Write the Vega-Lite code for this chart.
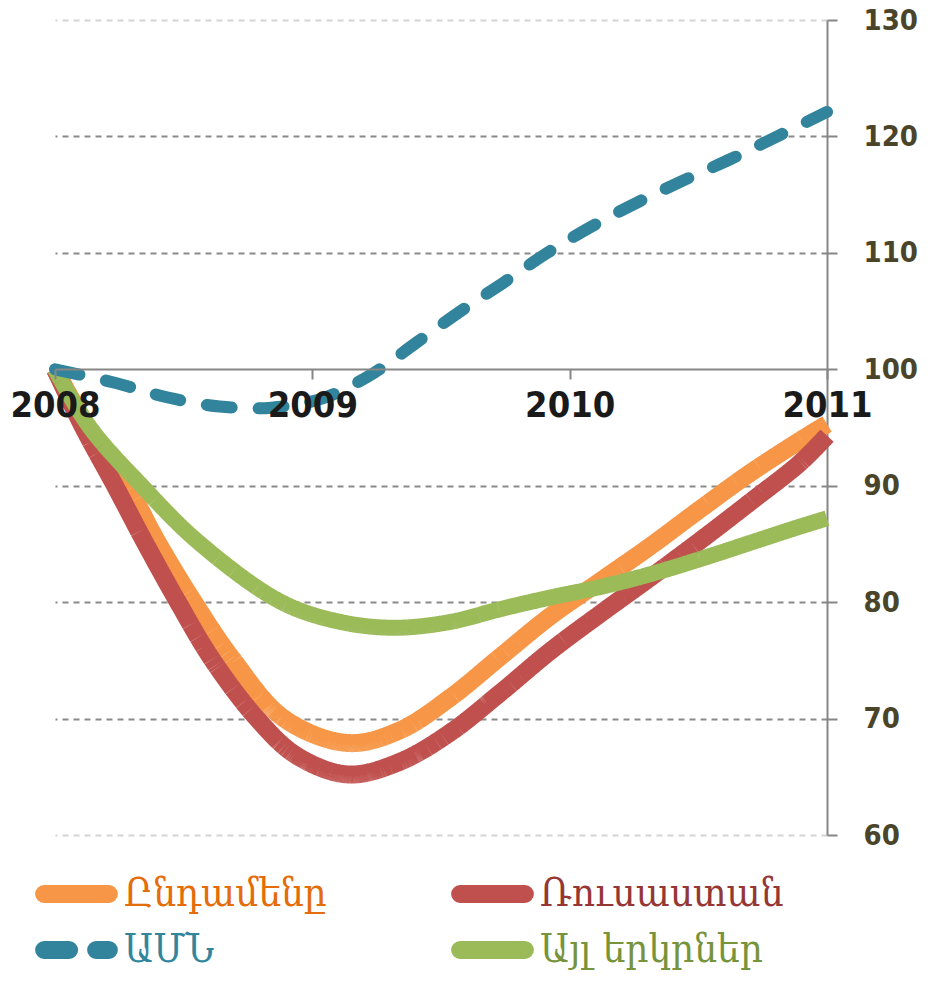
{
  "$schema": "https://vega.github.io/schema/vega-lite/v6.json",
  "width": 772,
  "height": 815,
  "autosize": "none",
  "padding": {"left": 55, "top": 20, "right": 101, "bottom": 149},
  "background": "white",
  "data": {"values": [
    {"series": "Ընդամենը", "year": 2008.0, "value": 100},
    {"series": "Ընդամենը", "year": 2008.128, "value": 95},
    {"series": "Ընդամենը", "year": 2008.28, "value": 90},
    {"series": "Ընդամենը", "year": 2008.40, "value": 85.1},
    {"series": "Ընդամենը", "year": 2008.54, "value": 80},
    {"series": "Ընդամենը", "year": 2008.69, "value": 75.1},
    {"series": "Ընդամենը", "year": 2008.89, "value": 70},
    {"series": "Ընդամենը", "year": 2009.14, "value": 67.9},
    {"series": "Ընդամենը", "year": 2009.341, "value": 69.0},
    {"series": "Ընդամենը", "year": 2009.536, "value": 71.8},
    {"series": "Ընդամենը", "year": 2009.73, "value": 75.3},
    {"series": "Ընդամենը", "year": 2009.925, "value": 78.8},
    {"series": "Ընդամենը", "year": 2010.119, "value": 81.8},
    {"series": "Ընդամենը", "year": 2010.313, "value": 84.8},
    {"series": "Ընդամենը", "year": 2010.508, "value": 88.0},
    {"series": "Ընդամենը", "year": 2010.702, "value": 91.1},
    {"series": "Ընդամենը", "year": 2010.897, "value": 93.9},
    {"series": "Ընդամենը", "year": 2011.0, "value": 95.3},
    {"series": "Ռուսաստան", "year": 2008.0, "value": 100},
    {"series": "Ռուսաստան", "year": 2008.11, "value": 95},
    {"series": "Ռուսաստան", "year": 2008.233, "value": 90},
    {"series": "Ռուսաստան", "year": 2008.35, "value": 85.1},
    {"series": "Ռուսաստան", "year": 2008.478, "value": 80},
    {"series": "Ռուսաստան", "year": 2008.61, "value": 75.1},
    {"series": "Ռուսաստան", "year": 2008.785, "value": 70},
    {"series": "Ռուսաստան", "year": 2008.94, "value": 66.8},
    {"series": "Ռուսաստան", "year": 2009.14, "value": 65.2},
    {"series": "Ռուսաստան", "year": 2009.341, "value": 66.3},
    {"series": "Ռուսաստան", "year": 2009.536, "value": 68.8},
    {"series": "Ռուսաստան", "year": 2009.73, "value": 72.2},
    {"series": "Ռուսաստան", "year": 2009.925, "value": 75.8},
    {"series": "Ռուսաստան", "year": 2010.119, "value": 79.0},
    {"series": "Ռուսաստան", "year": 2010.313, "value": 82.1},
    {"series": "Ռուսաստան", "year": 2010.508, "value": 85.3},
    {"series": "Ռուսաստան", "year": 2010.702, "value": 88.6},
    {"series": "Ռուսաստան", "year": 2010.897, "value": 92.0},
    {"series": "Ռուսաստան", "year": 2011.0, "value": 94.3},
    {"series": "ԱՄՆ", "year": 2008.0, "value": 100},
    {"series": "ԱՄՆ", "year": 2008.24, "value": 98.8},
    {"series": "ԱՄՆ", "year": 2008.435, "value": 97.6},
    {"series": "ԱՄՆ", "year": 2008.64, "value": 96.8},
    {"series": "ԱՄՆ", "year": 2008.84, "value": 96.7},
    {"series": "ԱՄՆ", "year": 2009.04, "value": 97.5},
    {"series": "ԱՄՆ", "year": 2009.24, "value": 99.7},
    {"series": "ԱՄՆ", "year": 2009.405, "value": 102.3},
    {"series": "ԱՄՆ", "year": 2009.57, "value": 104.9},
    {"series": "ԱՄՆ", "year": 2009.74, "value": 107.4},
    {"series": "ԱՄՆ", "year": 2009.906, "value": 109.9},
    {"series": "ԱՄՆ", "year": 2010.08, "value": 112.2},
    {"series": "ԱՄՆ", "year": 2010.26, "value": 114.3},
    {"series": "ԱՄՆ", "year": 2010.44, "value": 116.2},
    {"series": "ԱՄՆ", "year": 2010.63, "value": 118.1},
    {"series": "ԱՄՆ", "year": 2010.815, "value": 120.1},
    {"series": "ԱՄՆ", "year": 2011.0, "value": 122.1},
    {"series": "Այլ երկրներ", "year": 2008.0, "value": 100},
    {"series": "Այլ երկրներ", "year": 2008.136, "value": 95},
    {"series": "Այլ երկրներ", "year": 2008.337, "value": 90},
    {"series": "Այլ երկրներ", "year": 2008.56, "value": 85.1},
    {"series": "Այլ երկրներ", "year": 2008.88, "value": 80},
    {"series": "Այլ երկրներ", "year": 2009.11, "value": 78.3},
    {"series": "Այլ երկրներ", "year": 2009.32, "value": 77.8},
    {"series": "Այլ երկրներ", "year": 2009.536, "value": 78.3},
    {"series": "Այլ երկրներ", "year": 2009.73, "value": 79.4},
    {"series": "Այլ երկրներ", "year": 2009.925, "value": 80.4},
    {"series": "Այլ երկրներ", "year": 2010.119, "value": 81.3},
    {"series": "Այլ երկրներ", "year": 2010.313, "value": 82.4},
    {"series": "Այլ երկրներ", "year": 2010.508, "value": 83.7},
    {"series": "Այլ երկրներ", "year": 2010.702, "value": 85.1},
    {"series": "Այլ երկրներ", "year": 2010.897, "value": 86.5},
    {"series": "Այլ երկրներ", "year": 2011.0, "value": 87.2}
  ]},
  "encoding": {
    "x": {
      "field": "year", "type": "quantitative",
      "scale": {"domain": [2008, 2011], "nice": false, "zero": false},
      "axis": {
        "orient": "bottom", "offset": -466, "values": [2008, 2009, 2010, 2011], "format": "d",
        "title": null, "grid": false, "zindex": 1,
        "domainColor": "#868686", "domainWidth": 2,
        "tickColor": "#868686", "tickWidth": 2, "tickSize": 10,
        "labelFont": "Liberation Sans Narrow, DejaVu Sans Condensed, sans-serif",
        "labelFontWeight": "bold", "labelFontSize": 36, "labelColor": "#1a1a1a",
        "labelPadding": 9, "labelFlush": false, "labelOverlap": false
      }
    },
    "y": {
      "field": "value", "type": "quantitative",
      "scale": {"domain": [60, 130], "nice": false, "zero": false},
      "axis": {
        "orient": "right", "values": [60, 70, 80, 90, 100, 110, 120, 130], "title": null,
        "domainColor": "#868686", "domainWidth": 2,
        "tickColor": "#868686", "tickWidth": 2, "tickSize": 10,
        "grid": true, "gridDash": [6, 5], "gridWidth": 2,
        "gridColor": {"condition": [
          {"test": "datum.value == 100", "value": "transparent"},
          {"test": "datum.value == 130 || datum.value == 60", "value": "#d4d4d4"}
        ], "value": "#898989"},
        "labelFont": "DejaVu Sans Condensed, DejaVu Sans, sans-serif",
        "labelFontWeight": "bold", "labelFontSize": 29, "labelColor": "#4a452a",
        "labelPadding": 26, "labelFlush": false, "labelOverlap": false
      }
    },
    "color": {
      "field": "series", "type": "nominal",
      "scale": {
        "domain": ["Ընդամենը", "Ռուսաստան", "ԱՄՆ", "Այլ երկրներ"],
        "range": ["#F79646", "#C0504D", "#31849B", "#9BBB59"]
      },
      "legend": {
        "orient": "none", "legendX": -20, "legendY": 849,
        "title": null, "columns": 2, "direction": "horizontal",
        "symbolType": "stroke", "symbolSize": 4200, "symbolStrokeWidth": 18,
        "clipHeight": 50,
        "labelFont": "DejaVu Serif Condensed, DejaVu Serif, serif", "labelFontSize": 40,
        "labelOffset": 6, "labelLimit": 400, "columnPadding": 124, "rowPadding": 6,
        "encode": {
          "symbols": {"update": {"strokeCap": {"value": "round"}}},
          "labels": {"update": {"fill": {"signal": "datum.value === 'Ընդամենը' ? '#E46C0A' : datum.value === 'Ռուսաստան' ? '#953735' : datum.value === 'ԱՄՆ' ? '#31859C' : '#77933C'"}}}
        }
      }
    },
    "strokeDash": {
      "field": "series", "type": "nominal",
      "scale": {
        "domain": ["Ընդամենը", "Ռուսաստան", "ԱՄՆ", "Այլ երկրներ"],
        "range": [[1, 0], [1, 0], [25, 27], [1, 0]]
      }
    },
    "order": {"field": "year", "type": "quantitative"}
  },
  "layer": [
    {"transform": [{"filter": "datum.series === 'Ընդամենը'"}],
     "mark": {"type": "line", "interpolate": "catmull-rom", "strokeWidth": 18, "strokeCap": "butt", "strokeJoin": "round"}},
    {"transform": [{"filter": "datum.series === 'Ռուսաստան'"}],
     "mark": {"type": "line", "interpolate": "catmull-rom", "strokeWidth": 18, "strokeCap": "butt", "strokeJoin": "round"}},
    {"transform": [{"filter": "datum.series === 'Այլ երկրներ'"}],
     "mark": {"type": "line", "interpolate": "catmull-rom", "strokeWidth": 16, "strokeCap": "butt", "strokeJoin": "round"}},
    {"transform": [{"filter": "datum.series === 'ԱՄՆ'"}],
     "mark": {"type": "line", "interpolate": "catmull-rom", "strokeWidth": 12, "strokeCap": "round", "strokeJoin": "round"}}
  ],
  "config": {"view": {"stroke": null}}
}
